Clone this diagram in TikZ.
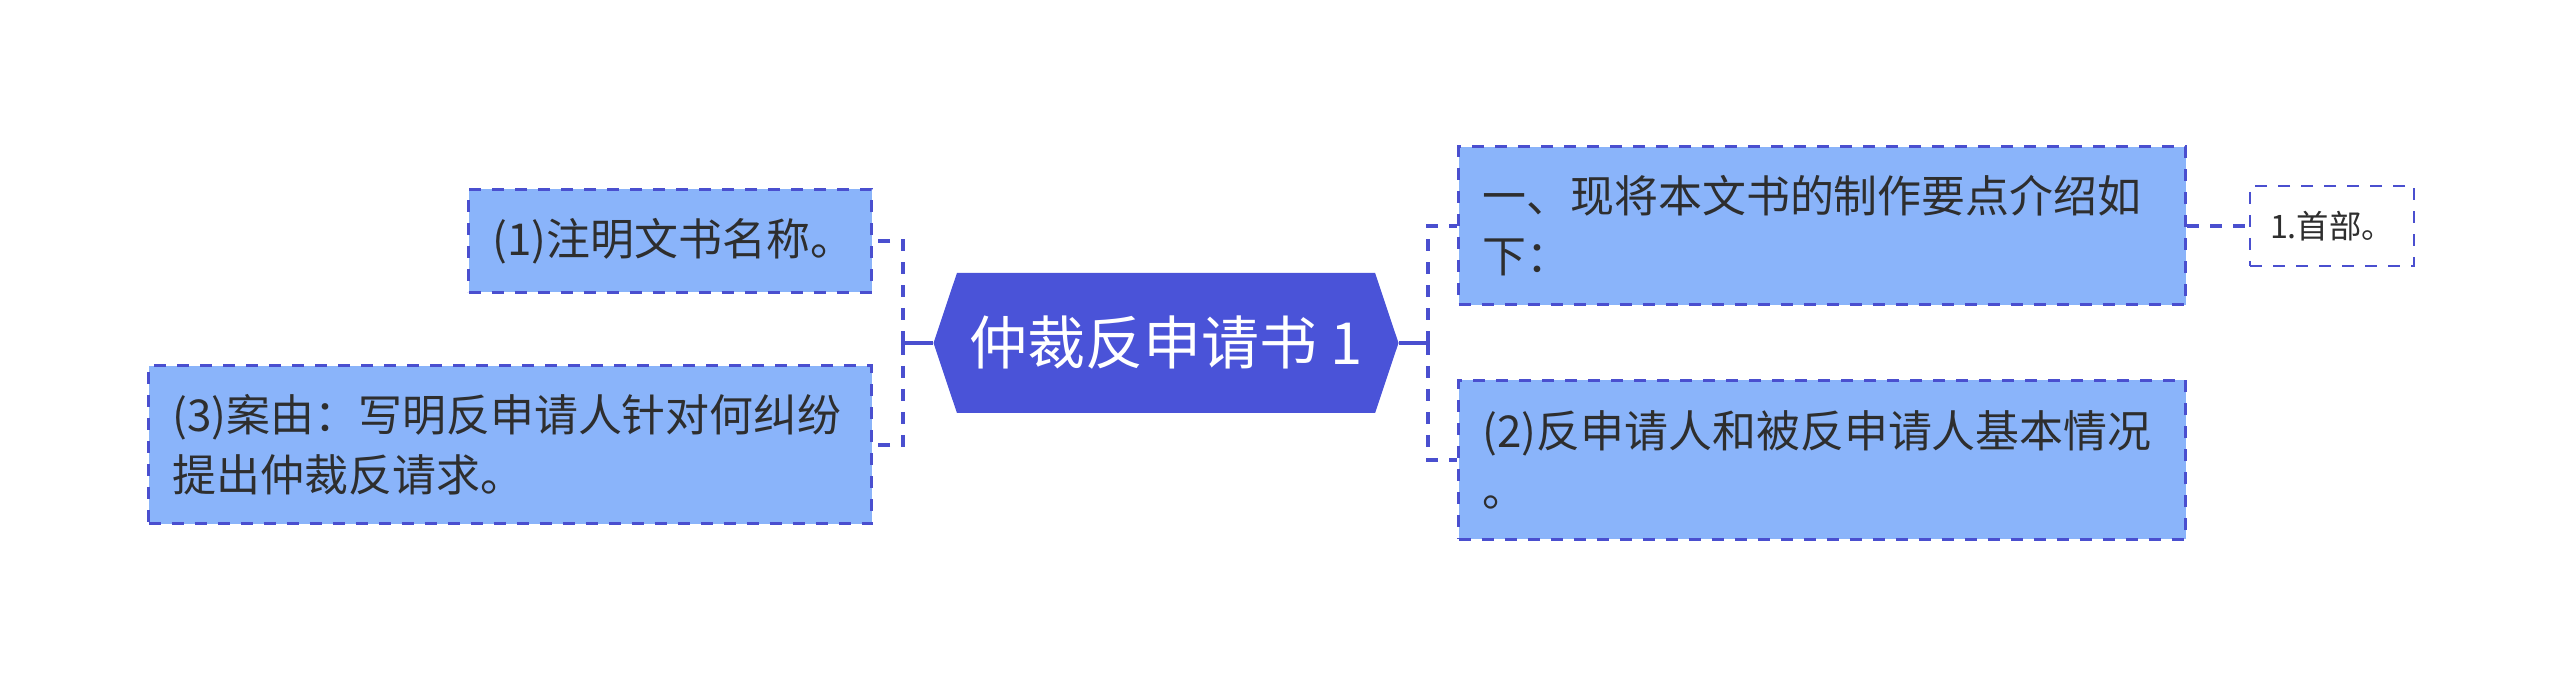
\documentclass[tikz,border=0pt]{standalone}
\usepackage{fontspec}
\newfontfamily\cjk{Noto Sans CJK SC}
\usetikzlibrary{shapes.symbols}

\definecolor{hubblue}{HTML}{4A53D8}
\definecolor{leafblue}{HTML}{8AB4FA}
\definecolor{linkblue}{HTML}{4A4FCF}
\definecolor{inkgray}{HTML}{2E2E2E}

\tikzset{
    hub/.style={shape=signal, signal to=west and east, signal pointer angle=143,
        fill=hubblue, text=white, minimum width=46.5mm, minimum height=14mm,
        inner xsep=1mm, font=\cjk\fontsize{16.5}{20}\selectfont},
    leaf/.style={draw=linkblue, line width=0.3mm, dash pattern=on 1.2mm off 1.1mm,
        fill=leafblue, text=inkgray, align=left, inner xsep=2.4mm, inner ysep=0mm,
        font=\cjk\fontsize{12.5}{17}\selectfont},
    subleaf/.style={draw=linkblue, line width=0.25mm, dash pattern=on 1.2mm off 1.1mm,
        fill=white, text=inkgray, minimum width=16.4mm, minimum height=8mm,
        font=\cjk\fontsize{9.2}{12}\selectfont},
    link/.style={draw=linkblue, line width=0.4mm},
    dashlink/.style={link, dash pattern=on 1.2mm off 1.1mm}
}

\begin{document}
\begin{tikzpicture}[x=0.1mm, y=-0.1mm]
    \useasboundingbox (0,0) rectangle (2560,687);

    % Central topic
    \node[hub] (main) at (1166,343) {仲裁反申请书 1};

    % Left branch
    \node[leaf, text width=35.5mm, minimum height=10.3mm] (name) at (670,241) {(1)注明文书名称。};
    \node[leaf, text width=67.5mm, minimum height=15.8mm] (cause) at (510,445) {(3)案由：写明反申请人针对何纠纷\\提出仲裁反请求。};

    % Right branch
    \node[leaf, text width=67.9mm, minimum height=15.8mm] (points) at (1822,226) {一、现将本文书的制作要点介绍如\\下：};
    \node[leaf, text width=67.9mm, minimum height=15.9mm] (parties) at (1822,460) {(2)反申请人和被反申请人基本情况\\。};
    \node[subleaf] (head) at (2332,226) {1.首部。};

    % Junction points
    \coordinate (hubL) at (903,343);
    \coordinate (hubR) at (1428,343);

    % Connectors
    \draw[link] (main.west) -- (hubL);
    \draw[link] (main.east) -- (hubR);
    \draw[dashlink] (hubL) |- (name.east);
    \draw[dashlink] (hubL) |- (cause.east);
    \draw[dashlink] (hubR) |- (points.west);
    \draw[dashlink] (hubR) |- (parties.west);
    \draw[dashlink] (points.east) -- (head.west);
\end{tikzpicture}
\end{document}
